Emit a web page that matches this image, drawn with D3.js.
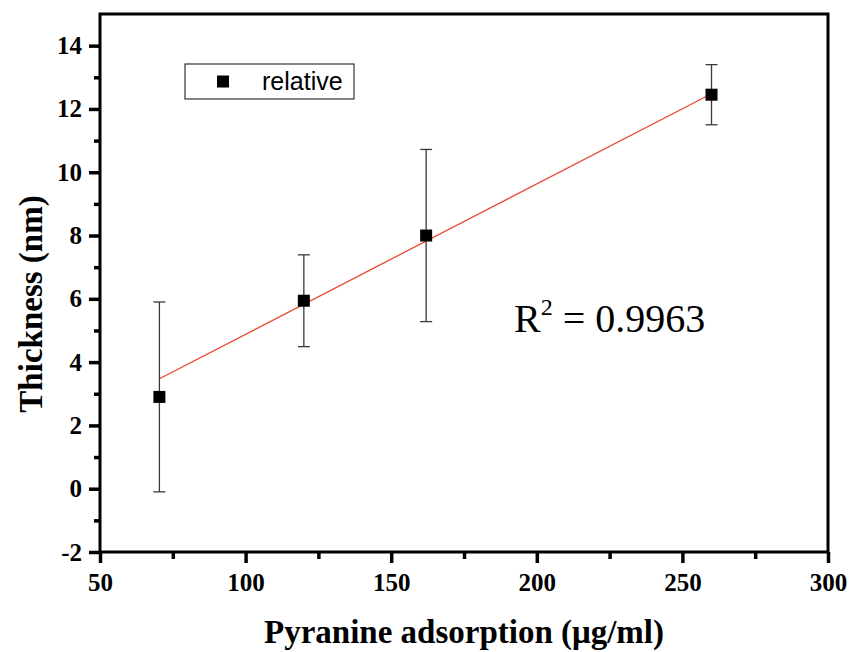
<!DOCTYPE html>
<html>
<head>
<meta charset="utf-8">
<script src="https://cdn.jsdelivr.net/npm/d3@7"></script>
<style>
  html, body { margin: 0; padding: 0; background: #fff; }
  svg { display: block; }
</style>
</head>
<body>
<svg id="chart" width="850" height="652"></svg>
<script>
// Measured thickness against pyranine adsorption
const adsorption = [70.4, 120, 162, 260];
const thickness = [2.9, 5.94, 8.0, 12.45];
const thicknessErr = [3.0, 1.45, 2.72, 0.95];

// Linear fit through the points
const fitSlope = 0.0475;
const fitIntercept = 0.13;
const fitRange = [70.4, 260];
const rSquared = "0.9963";

const xTicks = [50, 100, 150, 200, 250, 300];
const xMinorTicks = [75, 125, 175, 225, 275];
const yTicks = [-2, 0, 2, 4, 6, 8, 10, 12, 14];
const yMinorTicks = [-1, 1, 3, 5, 7, 9, 11, 13];

const seriesName = "relative";

const svg = d3.select("#chart");
const plotLeft = 100, plotRight = 828, plotTop = 14, plotBottom = 552;

const x = d3.scaleLinear().domain([50, 300]).range([plotLeft, plotRight]);
const y = d3.scaleLinear().domain([-2, 15]).range([plotBottom, plotTop]);

const serif = "'Liberation Serif', 'Times New Roman', serif";
const sans = "'Liberation Sans', Arial, sans-serif";
const plainNumber = d => String(d);

// Frame
svg.append("rect")
  .attr("x", plotLeft).attr("y", plotTop)
  .attr("width", plotRight - plotLeft).attr("height", plotBottom - plotTop)
  .attr("fill", "none").attr("stroke", "#000").attr("stroke-width", 3);

// Bottom axis
const xAxis = svg.append("g").attr("transform", `translate(0,${plotBottom})`)
  .call(d3.axisBottom(x).tickValues(xTicks).tickSize(11).tickPadding(10).tickFormat(plainNumber));
const xMinor = svg.append("g").attr("transform", `translate(0,${plotBottom})`)
  .call(d3.axisBottom(x).tickValues(xMinorTicks).tickSize(7).tickFormat(""));

// Left axis
const yAxis = svg.append("g").attr("transform", `translate(${plotLeft},0)`)
  .call(d3.axisLeft(y).tickValues(yTicks).tickSize(11).tickPadding(7).tickFormat(plainNumber));
const yMinor = svg.append("g").attr("transform", `translate(${plotLeft},0)`)
  .call(d3.axisLeft(y).tickValues(yMinorTicks).tickSize(6).tickFormat(""));

[xAxis, xMinor, yAxis, yMinor].forEach(g => {
  g.select(".domain").remove();
  g.selectAll(".tick line").attr("stroke", "#000").attr("stroke-width", 3.5);
  g.selectAll(".tick text")
    .attr("font-family", serif).attr("font-weight", "bold")
    .attr("font-size", 25).attr("fill", "#000");
});

// Fit line
svg.append("line")
  .attr("x1", x(fitRange[0])).attr("y1", y(fitIntercept + fitSlope * fitRange[0]))
  .attr("x2", x(fitRange[1])).attr("y2", y(fitIntercept + fitSlope * fitRange[1]))
  .attr("stroke", "#e8482e").attr("stroke-width", 1.3);

// Error bars
const capHalf = 6;
const eb = svg.append("g").attr("stroke", "#3a3a3a").attr("stroke-width", 1.3);
adsorption.forEach((a, i) => {
  const cx = x(a);
  const yHi = y(thickness[i] + thicknessErr[i]);
  const yLo = y(thickness[i] - thicknessErr[i]);
  eb.append("line").attr("x1", cx).attr("x2", cx).attr("y1", yHi).attr("y2", yLo);
  eb.append("line").attr("x1", cx - capHalf).attr("x2", cx + capHalf).attr("y1", yHi).attr("y2", yHi);
  eb.append("line").attr("x1", cx - capHalf).attr("x2", cx + capHalf).attr("y1", yLo).attr("y2", yLo);
});

// Markers
const size = 12;
svg.append("g").selectAll("rect").data(adsorption).join("rect")
  .attr("x", d => x(d) - size / 2)
  .attr("y", (d, i) => y(thickness[i]) - size / 2)
  .attr("width", size).attr("height", size)
  .attr("fill", "#000");

// Legend
const legend = svg.append("g");
legend.append("rect")
  .attr("x", 185).attr("y", 64).attr("width", 169).attr("height", 35)
  .attr("fill", "#fff").attr("stroke", "#333").attr("stroke-width", 1.2);
legend.append("rect")
  .attr("x", 223 - size / 2).attr("y", 81.5 - size / 2)
  .attr("width", size).attr("height", size).attr("fill", "#000");
legend.append("text")
  .attr("x", 262).attr("y", 90)
  .attr("font-family", sans).attr("font-size", 25)
  .attr("fill", "#000")
  .text(seriesName);

// R² annotation
const r2 = svg.append("text")
  .attr("x", 514).attr("y", 332)
  .attr("font-family", serif).attr("font-size", 40).attr("fill", "#000");
r2.append("tspan").text("R");
r2.append("tspan").attr("font-size", 24).attr("dy", -17).text("2");
r2.append("tspan").attr("dy", 17).text(" = " + rSquared);

// Axis titles
svg.append("text")
  .attr("x", 464).attr("y", 643)
  .attr("text-anchor", "middle")
  .attr("font-family", serif).attr("font-weight", "bold").attr("font-size", 33)
  .attr("fill", "#000")
  .text("Pyranine adsorption (\u03bcg/ml)");

svg.append("text")
  .attr("transform", `translate(42,${304}) rotate(-90)`)
  .attr("text-anchor", "middle")
  .attr("font-family", serif).attr("font-weight", "bold").attr("font-size", 33)
  .attr("fill", "#000")
  .text("Thickness (nm)");
</script>
</body>
</html>
